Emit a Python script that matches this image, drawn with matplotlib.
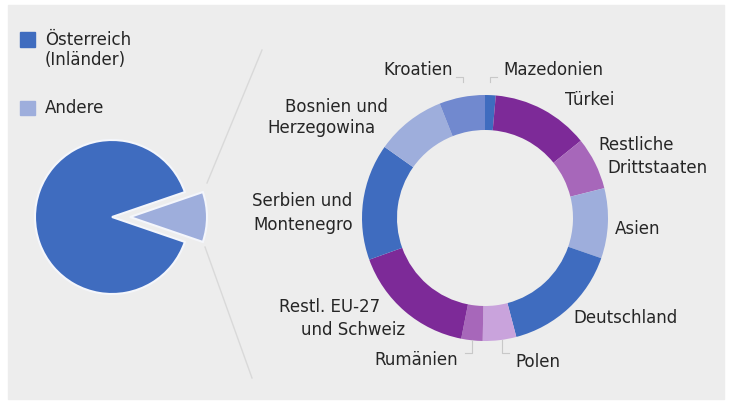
import matplotlib.pyplot as plt
from matplotlib.patches import Rectangle

W, H = 730, 403

# linker Kreis
pie_labels = ["Andere", "Österreich\n(Inländer)"]
pie_values = [10.5, 89.5]
pie_colors = ["#9eaedc", "#3f6cbf"]

# Ring: Anteile der Ausländer, im Uhrzeigersinn ab 12 Uhr
ring_labels = ["Mazedonien", "Türkei", "Restliche Drittstaaten", "Asien",
               "Deutschland", "Polen", "Rumänien", "Restl. EU-27 und Schweiz",
               "Serbien und Montenegro", "Bosnien und Herzegowina", "Kroatien"]
ring_values = [1.4, 12.8, 6.9, 9.2, 15.6, 4.4, 2.8, 16.4, 15.3, 9.2, 6.0]
ring_colors = ["#3f6cbf", "#7d2a98", "#a767ba", "#9eaedc", "#3f6cbf", "#c9a3dc",
               "#a767ba", "#7d2a98", "#3f6cbf", "#9eaedc", "#7189cf"]

txt = "#262626"
plt.rcParams['font.family'] = ['DejaVu Sans']

fig = plt.figure(figsize=(W / 100, H / 100), dpi=100, facecolor="white")
ax = fig.add_axes([0, 0, 1, 1])
ax.set_axis_off()

def Y(y):
    return H - y

ax.add_patch(Rectangle((8, Y(399)), 716, 394, color="#ededed", zorder=0))

# linker Kreis (explode ist hier in Pixeln, da die Achse in Pixeln laeuft)
andere_deg = pie_values[0] / sum(pie_values) * 360
ax.pie(pie_values, colors=pie_colors, center=(112, Y(217)), radius=77,
       startangle=-andere_deg / 2, explode=[18, 0],
       wedgeprops=dict(edgecolor="#f4f6fb", linewidth=1.5))

# Verbindungslinien
ax.plot([207, 262], [Y(183), Y(50)], color="#d9d9d9", lw=1, zorder=1)
ax.plot([205, 252], [Y(247), Y(378)], color="#d9d9d9", lw=1, zorder=1)

# Ring
ax.pie(ring_values, colors=ring_colors, center=(485, Y(218)), radius=123,
       startangle=90, counterclock=False,
       wedgeprops=dict(width=35, edgecolor="none"))

# Legende links
ax.add_patch(Rectangle((20, Y(47)), 15, 15, color=pie_colors[1]))
ax.add_patch(Rectangle((20, Y(115)), 15, 14, color=pie_colors[0]))
fs = 12
ax.text(45, Y(40), "Österreich", fontsize=fs, color=txt, va="center")
ax.text(45, Y(60), "(Inländer)", fontsize=fs, color=txt, va="center")
ax.text(45, Y(108), pie_labels[0], fontsize=fs, color=txt, va="center")

# Beschriftungen Ring
lab = [
    ("Kroatien", 453, 70, "right"),
    ("Mazedonien", 503, 70, "left"),
    ("Türkei", 565, 100, "left"),
    ("Restliche", 598, 145, "left"),
    ("Drittstaaten", 607, 168, "left"),
    ("Asien", 615, 229, "left"),
    ("Deutschland", 573, 318, "left"),
    ("Polen", 515, 362, "left"),
    ("Rumänien", 458, 360, "right"),
    ("Restl. EU-27", 380, 307, "right"),
    ("und Schweiz", 405, 330, "right"),
    ("Serbien und", 352, 201, "right"),
    ("Montenegro", 353, 225, "right"),
    ("Bosnien und", 285, 107, "left"),
    ("Herzegowina", 267, 128, "left"),
]
for s, x, y, ha in lab:
    ax.text(x, Y(y), s, fontsize=fs, color=txt, va="center", ha=ha)

# kleine Hinweislinien
lc = "#c8c8c8"
ax.plot([456, 463, 463], [Y(77), Y(77), Y(82)], color=lc, lw=0.8)
ax.plot([497, 490, 490], [Y(77), Y(77), Y(82)], color=lc, lw=0.8)
ax.plot([502, 502, 509], [Y(340), Y(353), Y(353)], color=lc, lw=0.8)
ax.plot([472, 472, 465], [Y(340), Y(353), Y(353)], color=lc, lw=0.8)

ax.set_xlim(0, W)
ax.set_ylim(0, H)
ax.set_aspect("equal")

fig.savefig("out.png", dpi=100, facecolor="white")
